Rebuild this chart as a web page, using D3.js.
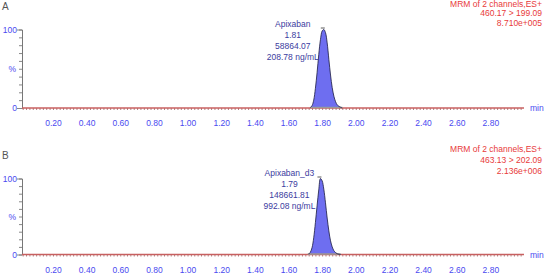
<!DOCTYPE html>
<html>
<head>
<meta charset="utf-8">
<script src="https://cdn.jsdelivr.net/npm/d3@7"></script>
<style>
  body { margin: 0; background: #fff; }
  text { font-family: "Liberation Sans", Arial, sans-serif; }
</style>
</head>
<body>
<svg id="chart" width="555" height="279"></svg>
<script>
// data (time in min, intensity in %)
const timesA = [0.016, 1.72, 1.73, 1.74, 1.75, 1.76, 1.77, 1.78, 1.79, 1.80, 1.81, 1.82, 1.83, 1.84, 1.85, 1.86, 1.87, 1.88, 1.89, 1.90, 1.91, 1.92, 3.0];
const valuesA = [0, 0, 0.5, 3, 10, 25, 45, 68, 87, 98, 100, 96, 83, 62, 42, 26, 15, 8, 4, 2, 1, 0, 0];
const timesB = [0.016, 1.71, 1.72, 1.73, 1.74, 1.75, 1.76, 1.77, 1.78, 1.79, 1.80, 1.81, 1.82, 1.83, 1.84, 1.85, 1.86, 1.87, 1.88, 1.89, 1.90, 1.91, 3.0];
const valuesB = [0, 0, 0.5, 3, 9, 22, 42, 64, 85, 100, 97, 86, 68, 48, 31, 18, 10, 5, 2.5, 1, 0.3, 0, 0];
const xTickLabels = [0.2, 0.4, 0.6, 0.8, 1.0, 1.2, 1.4, 1.6, 1.8, 2.0, 2.2, 2.4, 2.6, 2.8];

const panels = [
  { letter: "A", times: timesA, values: valuesA, top: 29.5, bottom: 108, apex: 1.81,
    peakStart: 1.73, peakEnd: 1.92,
    peakText: ["Apixaban", "1.81", "58864.07", "208.78 ng/mL"],
    info: ["MRM of 2 channels,ES+", "460.17 > 199.09", "8.710e+005"], infoY: [6.5, 16, 26] },
  { letter: "B", times: timesB, values: valuesB, top: 178.5, bottom: 254.5, apex: 1.79,
    peakStart: 1.715, peakEnd: 1.91,
    peakText: ["Apixaban_d3", "1.79", "148661.81", "992.08 ng/mL"],
    info: ["MRM of 2 channels,ES+", "463.13 > 202.09", "2.136e+006"], infoY: [152, 163, 174] }
];

const svg = d3.select("#chart");
const x = d3.scaleLinear().domain([0.016, 3.0]).range([22, 524]);
const blue = "#4a4af0", red = "#e83a3a";

panels.forEach(p => {
  const y = d3.scaleLinear().domain([0, 100]).range([p.bottom, p.top]);
  const g = svg.append("g");

  g.append("text").attr("x", 2).attr("y", p.top - 20).attr("font-size", 10)
    .attr("fill", "#555").text(p.letter);

  // y axis
  const ya = g.append("g").attr("transform", "translate(" + x.range()[0] + ",0)")
    .call(d3.axisLeft(y).tickValues(d3.range(0, 101, 10)).tickSize(3).tickFormat(""));
  ya.select(".domain").attr("stroke", "#777");
  ya.selectAll(".tick line").attr("stroke", "#888");
  ya.selectAll(".tick").filter(d => d === 0 || d === 100).select("line").attr("x2", -5);
  g.append("text").attr("x", 17).attr("y", y(100) + 3).attr("text-anchor", "end")
    .attr("font-size", 8.5).attr("fill", blue).text("100");
  g.append("text").attr("x", 17).attr("y", y(0) + 3).attr("text-anchor", "end")
    .attr("font-size", 8.5).attr("fill", blue).text("0");
  g.append("text").attr("x", 16).attr("y", y(50) + 3).attr("text-anchor", "end")
    .attr("font-size", 8.5).attr("fill", blue).text("%");

  // x axis minor ticks
  const xa = g.append("g").attr("transform", "translate(0," + p.bottom + ")")
    .call(d3.axisBottom(x).tickValues(d3.range(0.02, 3.0, 0.02)).tickSize(2).tickFormat(""));
  xa.select(".domain").remove();
  xa.selectAll(".tick line").attr("stroke", "#b08080");
  g.append("g").attr("transform", "translate(0," + (p.bottom + 9) + ")")
    .call(d3.axisBottom(x).tickValues(xTickLabels).tickSize(0).tickFormat(d3.format(".2f")))
    .call(a => a.select(".domain").remove())
    .selectAll("text").attr("font-size", 8.5).attr("fill", blue)
    .attr("font-family", "Liberation Sans, Arial, sans-serif");
  g.append("text").attr("x", 530).attr("y", p.bottom + 3).attr("font-size", 8.5)
    .attr("fill", blue).text("min");

  // peak fill
  const pts = p.times.map((t, i) => [t, p.values[i]]);
  const peakPts = pts.filter(d => d[0] >= p.peakStart - 0.001 && d[0] <= p.peakEnd + 0.001);
  g.append("path").datum(peakPts)
    .attr("fill", "#6e6ef0")
    .attr("d", d3.area().x(d => x(d[0])).y0(y(0)).y1(d => y(d[1])).curve(d3.curveCatmullRom));

  // baseline trace
  g.append("line").attr("x1", x(x.domain()[0])).attr("x2", x(x.domain()[1]))
    .attr("y1", y(0)).attr("y2", y(0)).attr("stroke", "#c86060").attr("stroke-width", 1.5);
  // integration baseline
  g.append("line").attr("x1", x(p.peakStart)).attr("x2", x(p.peakEnd))
    .attr("y1", y(0) - 0.5).attr("y2", y(0) - 0.5).attr("stroke", "#999").attr("stroke-width", 1.5);
  // peak outline
  g.append("path").datum(peakPts)
    .attr("fill", "none").attr("stroke", "#1a1a40").attr("stroke-width", 0.8)
    .attr("d", d3.line().x(d => x(d[0])).y(d => y(d[1])).curve(d3.curveCatmullRom));

  // apex marker
  g.append("line").attr("x1", x(p.apex) - 3).attr("x2", x(p.apex) + 1)
    .attr("y1", y(100) - 1.5).attr("y2", y(100) - 1.5).attr("stroke", "#333").attr("stroke-width", 0.8);

  // peak annotation
  const cx = x(p.apex) - 31;
  p.peakText.forEach((s, i) => {
    g.append("text").attr("x", cx).attr("y", p.top - 3 + i * 11)
      .attr("text-anchor", "middle").attr("font-size", 8.5).attr("fill", "#3c3ca0").text(s);
  });

  // channel info
  p.info.forEach((s, i) => {
    g.append("text").attr("x", 542).attr("y", p.infoY[i])
      .attr("text-anchor", "end").attr("font-size", 8.5).attr("fill", red).text(s);
  });
});
</script>
</body>
</html>
